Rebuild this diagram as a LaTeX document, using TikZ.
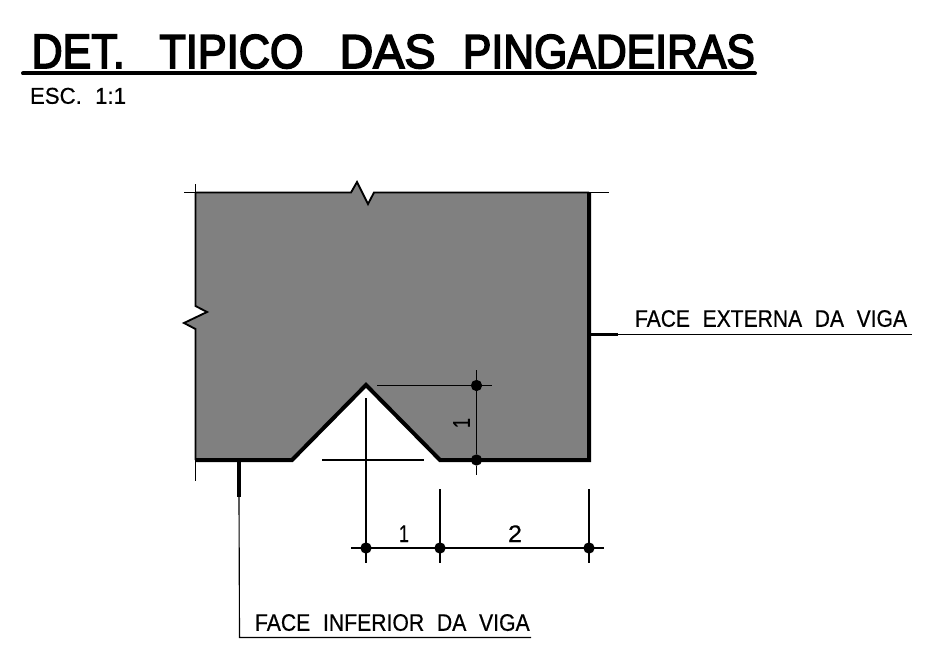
\documentclass[tikz,border=0pt]{standalone}
\usepackage{fontspec}
\setmainfont[FakeBold=0.6]{Liberation Sans}
\newfontfamily\titlefont[FakeBold=3.5]{Liberation Sans}
\usepackage{graphicx}
\newcommand{\fitw}[3]{\resizebox{#1pt}{#2pt}{#3}}
\newcommand{\tw}[2]{\resizebox{#1pt}{25pt}{\titlefont #2}}
\tikzset{
  thinline/.style={draw=black,line width=0.85pt},
  tickline/.style={draw=black,line width=1.2pt},
  medline/.style={draw=black,line width=1.4pt},
  heavyline/.style={draw=black,line width=3pt},
  dimdot/.style={circle,fill=black,inner sep=0pt,minimum size=8.5pt},
  txt/.style={inner sep=0pt,outer sep=0pt,anchor=south west},
}
\begin{document}
\begin{tikzpicture}[x=0.75pt,y=-0.75pt]
\useasboundingbox (0,0) rectangle (942,667);
% coordinates
\coordinate (TL) at (195.5,192.5);
\coordinate (TR) at (589,192.5);
\coordinate (BR) at (589,460);
\coordinate (BL) at (195.5,460);
\coordinate (N1) at (292,460);
\coordinate (NA) at (366,385);
\coordinate (N2) at (440,460);
% section
\fill[fill=black!50!white] (TL) -- (351,192.5) -- (357,182) -- (368,204) -- (374,192.5) -- (TR) -- (BR) -- (N2) -- (NA) -- (N1) -- (BL) -- (195.5,329) -- (184,323) -- (207,312) -- (195.5,306) -- cycle;
\draw[medline,line join=miter] (TL) -- (351,192.5) -- (357,182) -- (368,204) -- (374,192.5) -- (TR);
\draw[medline] (TL) -- (195.5,306) -- (207,312) -- (184,323) -- (195.5,329) -- (BL);
\draw[heavyline,line join=miter,line cap=butt] (TR) -- (BR) -- (N2) -- (NA) -- (N1) -- (BL);
% construction overshoots
\coordinate (ot1) at (184,192.5); \coordinate (ot2) at (609,192.5);
\coordinate (ol1) at (195.5,184); \coordinate (ol2) at (195.5,481);
\draw[thinline] (ot1) -- (TL);
\draw[thinline] (TR) -- (ot2);
\draw[thinline] (ol1) -- (TL);
\draw[thinline] (BL) -- (ol2);
% witness lines
\coordinate (e1a) at (366,398); \coordinate (e1b) at (366,563);
\coordinate (e2a) at (440,489); \coordinate (e2b) at (440,563);
\coordinate (e3a) at (589,489); \coordinate (e3b) at (589,563);
\coordinate (h1a) at (377,385.5); \coordinate (h1b) at (492,385.5);
\coordinate (h2a) at (322,460); \coordinate (h2b) at (424,460);
\draw[thinline] (e1a) -- (e1b);
\draw[thinline] (e2a) -- (e2b);
\draw[thinline] (e3a) -- (e3b);
\draw[thinline] (h1a) -- (h1b);
\draw[thinline] (h2a) -- (h2b);
% dimension dots
\node[dimdot] (d1) at (366,548) {};
\node[dimdot] (d2) at (440,548) {};
\node[dimdot] (d3) at (589,548) {};
\node[dimdot] (d4) at (476.5,385.5) {};
\node[dimdot] (d5) at (476.5,460) {};
\coordinate (dh1) at (351,548); \coordinate (dh2) at (604,548);
\coordinate (dv1) at (476.5,370); \coordinate (dv2) at (476.5,475);
\draw[thinline] (dh1) -- (d1) -- (d2) -- (d3) -- (dh2);
\draw[thinline] (dv1) -- (d4) -- (d5) -- (dv2);
% thicker ticks at the dots
\draw[tickline] ([xshift=-11pt]d1.center) -- ([xshift=11pt]d1.center);
\draw[tickline] ([xshift=-11pt]d2.center) -- ([xshift=11pt]d2.center);
\draw[tickline] ([xshift=-11pt]d3.center) -- ([xshift=11pt]d3.center);
\draw[tickline] ([yshift=11pt]d1.center) -- (d1.center);
\draw[tickline] ([yshift=11pt]d2.center) -- (d2.center);
\draw[tickline] ([yshift=11pt]d3.center) -- (d3.center);
% leaders
\coordinate (la) at (239,460); \coordinate (lb) at (239,497);
\coordinate (lc) at (239.5,637.5); \coordinate (ld) at (531,637.5);
\draw[draw=black,line width=2.4pt] (la) -- (lb);
\draw[thinline] (lb) -- (lc) -- (ld);
\coordinate (ra) at (589,334.5); \coordinate (rb) at (618,334.5); \coordinate (rc) at (912,334.5);
\draw[draw=black,line width=2.4pt] (ra) -- (rb);
\draw[thinline] (rb) -- (rc);
% title
\node[txt] (title) at (31.5,68.5) {\tw{70}{DET.}\hspace{26pt}\tw{108}{TIPICO}\hspace{27pt}\tw{72}{DAS}\hspace{20.5pt}\tw{219}{PINGADEIRAS}};
\coordinate (u1) at (23,73.5); \coordinate (u2) at (755,73.5);
\draw[draw=black,line width=3pt,line cap=round] (u1) -- (u2);
\node[txt] (esc) at (30,104) {\fitw{72}{12}{ESC.\hspace{0.6em}1:1}};
\node[txt] (fext) at (635,327) {\fitw{204}{12.5}{FACE\hspace{0.6em}EXTERNA\hspace{0.6em}DA\hspace{0.6em}VIGA}};
\node[txt] (finf) at (255,631) {\fitw{206}{12.5}{FACE\hspace{0.6em}INFERIOR\hspace{0.6em}DA\hspace{0.6em}VIGA}};
\node[txt] (n1) at (399,542) {\fitw{7.5}{12.5}{1}};
\node[txt] (n2) at (508,542) {\fitw{10.5}{12.5}{2}};
\node[inner sep=0pt,rotate=90] (n3) at (461.5,423) {\fitw{7.5}{12.5}{1}};
\end{tikzpicture}
\end{document}
